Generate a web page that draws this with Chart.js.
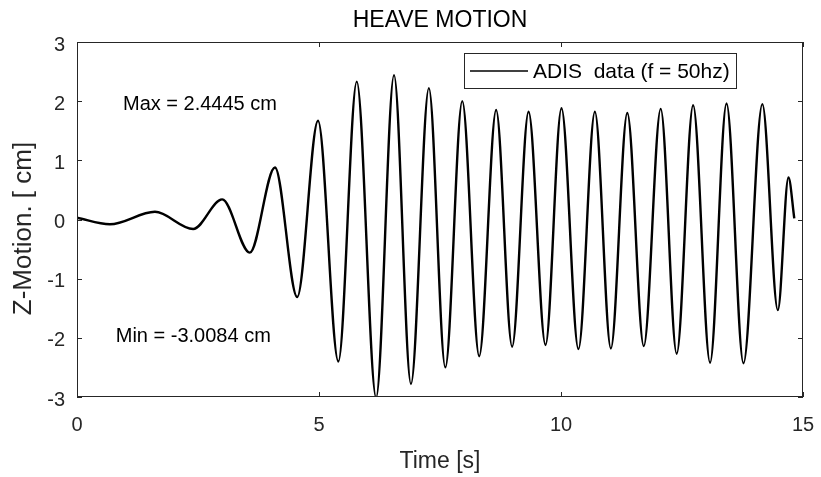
<!DOCTYPE html>
<html>
<head>
<meta charset="utf-8">
<script src="https://cdn.jsdelivr.net/npm/chart.js@4.4.1/dist/chart.umd.min.js"></script>
<style>
  html, body { margin: 0; padding: 0; background: #fff; }
  #wrap { width: 821px; height: 477px; }
</style>
</head>
<body>
<div id="wrap"><canvas id="heave" width="821" height="477"></canvas></div>
<script>
// peaks / troughs (time in s, heave in cm)
const timeS = [0, 0.68, 1.61, 2.40, 3.00, 3.57, 4.09, 4.55, 4.98, 5.40, 5.78, 6.18, 6.55, 6.90,
  7.27, 7.61, 7.96, 8.31, 8.66, 8.99, 9.33, 9.68, 10.01, 10.36, 10.70, 11.03, 11.37, 11.71,
  12.06, 12.39, 12.73, 13.08, 13.42, 13.77, 14.16, 14.48, 14.70, 14.82];
const heaveCm = [0.03, -0.08, 0.13, -0.16, 0.34, -0.56, 0.88, -1.31, 1.67, -2.40, 2.33, -3.01, 2.44, -2.78,
  2.22, -2.50, 2.00, -2.31, 1.85, -2.15, 1.82, -2.12, 1.88, -2.19, 1.82, -2.18, 1.80, -2.14,
  1.87, -2.27, 1.93, -2.42, 1.96, -2.43, 1.95, -1.53, 0.71, 0.02];

const xTicks = [0, 5, 10, 15];
const yTicks = [-3, -2, -1, 0, 1, 2, 3];

// text labels placed in data units, like MATLAB text()
const noteText = ['Max = 2.4445 cm', 'Min = -3.0084 cm'];
const noteX = [0.95, 0.80];
const noteY = [1.95, -1.98];

const seriesName = 'ADIS  data (f = 50hz)';
const yLabel = 'Z-Motion. [ cm]';

const FONT = "'Liberation Sans', Arial, Helvetica, sans-serif";
const INK = '#262626';

const points = timeS.map((t, i) => ({ x: t, y: heaveCm[i] }));

// box, inward ticks on all four sides, y label, text notes and the legend
const matlabAxes = {
  id: 'matlabAxes',
  afterDatasetsDraw(chart) {
    const { ctx, chartArea: a, scales } = chart;
    const x = scales.x, y = scales.y;
    ctx.save();
    ctx.strokeStyle = INK;
    ctx.lineWidth = 1;
    ctx.strokeRect(a.left + 0.5, a.top + 0.5, a.width - 1, a.height - 1);
    const tl = 5;
    ctx.beginPath();
    xTicks.forEach(v => {
      const px = Math.round(x.getPixelForValue(v)) + 0.5;
      ctx.moveTo(px, a.bottom); ctx.lineTo(px, a.bottom - tl);
      ctx.moveTo(px, a.top); ctx.lineTo(px, a.top + tl);
    });
    yTicks.forEach(v => {
      const py = Math.round(y.getPixelForValue(v)) + 0.5;
      ctx.moveTo(a.left, py); ctx.lineTo(a.left + tl, py);
      ctx.moveTo(a.right, py); ctx.lineTo(a.right - tl, py);
    });
    ctx.stroke();

    // y axis label (sits a bit below the axis centre in the original)
    ctx.save();
    ctx.translate(24, (a.top + a.bottom) / 2 + 9);
    ctx.rotate(-Math.PI / 2);
    ctx.fillStyle = INK;
    ctx.font = '26px ' + FONT;
    ctx.textAlign = 'center';
    ctx.textBaseline = 'middle';
    ctx.fillText(yLabel, 0, 0);
    ctx.restore();

    // notes
    ctx.fillStyle = '#000';
    ctx.font = '20px ' + FONT;
    ctx.textAlign = 'left';
    ctx.textBaseline = 'middle';
    noteText.forEach((s, i) => {
      ctx.fillText(s, x.getPixelForValue(noteX[i]), y.getPixelForValue(noteY[i]));
    });

    // legend box, top right inside the axes
    const bw = 273, bh = 36;
    const bx = a.right - 66, by = a.top + 11;
    ctx.fillStyle = '#fff';
    ctx.fillRect(bx - bw, by, bw, bh);
    ctx.strokeStyle = INK;
    ctx.lineWidth = 1;
    ctx.strokeRect(bx - bw + 0.5, by + 0.5, bw - 1, bh - 1);
    ctx.strokeStyle = '#000';
    ctx.lineWidth = 1.5;
    ctx.beginPath();
    ctx.moveTo(bx - bw + 6, by + bh / 2);
    ctx.lineTo(bx - bw + 64, by + bh / 2);
    ctx.stroke();
    ctx.fillStyle = '#000';
    ctx.font = '21px ' + FONT;
    ctx.fillText(seriesName, bx - bw + 69, by + bh / 2 + 1);
    ctx.restore();
  }
};

new Chart(document.getElementById('heave'), {
  type: 'line',
  data: {
    datasets: [{
      label: seriesName,
      data: points,
      borderColor: '#000',
      borderWidth: 2.4,
      pointRadius: 0,
      cubicInterpolationMode: 'monotone',
      fill: false
    }]
  },
  options: {
    responsive: false,
    animation: false,
    layout: { padding: { left: 0, right: 18, top: 0, bottom: 0 } },
    plugins: {
      legend: { display: false },
      tooltip: { enabled: false },
      title: {
        display: true,
        fullSize: false,
        text: 'HEAVE MOTION',
        color: '#000',
        font: { family: FONT, size: 23, weight: 'normal', lineHeight: 1.2 },
        padding: { top: 7, bottom: 7.4 }
      }
    },
    scales: {
      x: {
        type: 'linear',
        min: 0, max: 15,
        afterBuildTicks: s => { s.ticks = xTicks.map(v => ({ value: v })); },
        afterFit: s => { s.height = 80; s.paddingLeft = 0; s.paddingRight = 0; },
        grid: { display: false, drawTicks: false },
        border: { display: false },
        ticks: { color: INK, font: { family: FONT, size: 20 }, padding: 16, maxRotation: 0 },
        title: {
          display: true, text: 'Time [s]', color: INK,
          font: { family: FONT, size: 23 }, padding: { top: 0, bottom: 2 }
        }
      },
      y: {
        type: 'linear',
        min: -3, max: 3,
        afterBuildTicks: s => { s.ticks = yTicks.map(v => ({ value: v })); },
        afterFit: s => { s.width = 77; },
        grid: { display: false, drawTicks: false },
        border: { display: false },
        ticks: { color: INK, font: { family: FONT, size: 20 }, padding: 12, labelOffset: 3 }
      }
    }
  },
  plugins: [matlabAxes]
});
</script>
</body>
</html>
